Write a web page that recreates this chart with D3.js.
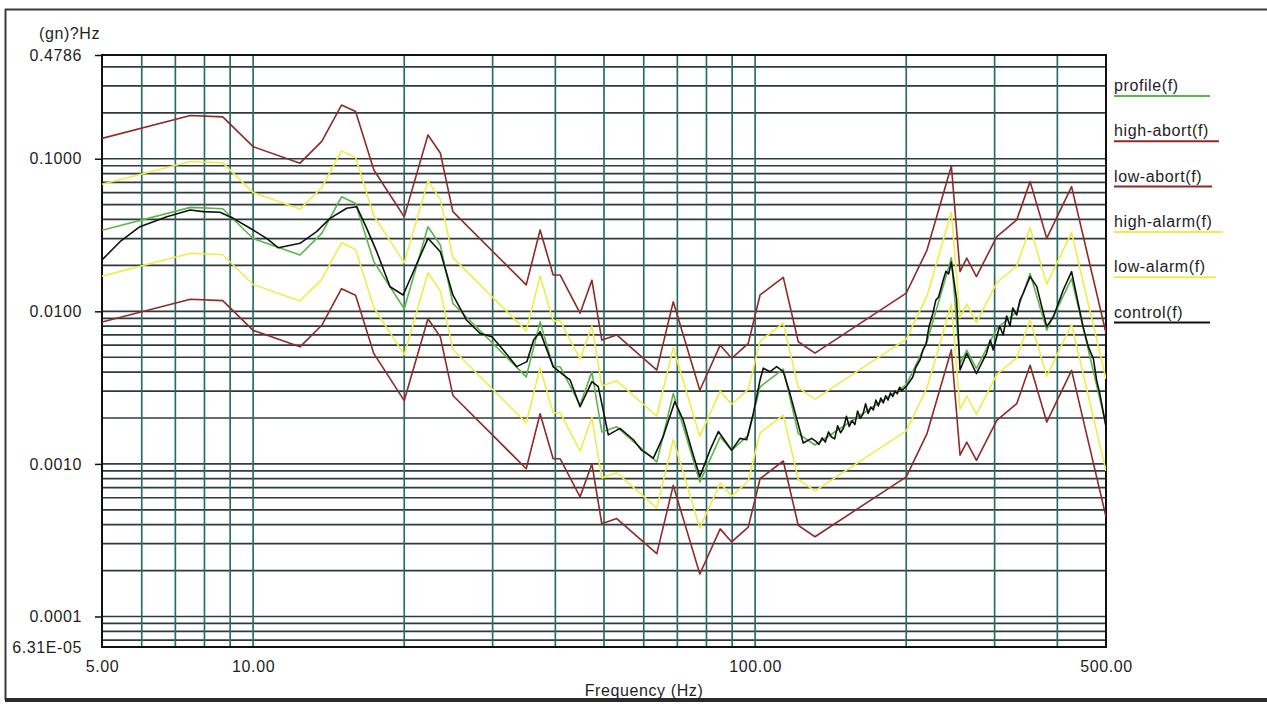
<!DOCTYPE html>
<html>
<head>
<meta charset="utf-8">
<script src="https://cdn.jsdelivr.net/npm/d3@7"></script>
<style>
  html, body { margin: 0; padding: 0; background: #ffffff; }
  svg text { font-family: "Liberation Sans", Arial, sans-serif; font-size: 16px; fill: #1e1e1e; letter-spacing: 0.6px; }
</style>
</head>
<body>
<svg id="chart" width="1267" height="704"></svg>
<script>
// Reference profile breakpoints (Hz) and PSD levels (g²/Hz)
const profileFreq = [5, 7.5, 8.7, 10, 12.4, 13.7, 15, 16, 17.4, 20, 22.3, 23.6, 25, 35, 37.3, 39.6, 40.9, 44.8, 47.3, 49.5, 53, 63.7, 68.7, 77.6, 85.2, 89.8, 96.9, 102.3, 113.8, 121.9, 131.6, 200, 220, 233, 246, 256, 264, 276, 303, 332, 353, 381, 427, 500];
const profileVals = [0.034, 0.048, 0.047, 0.030, 0.0234, 0.0324, 0.0563, 0.0509, 0.0211, 0.0104, 0.0358, 0.0272, 0.01125, 0.00372, 0.00853, 0.00433, 0.00433, 0.00243, 0.00401, 0.00162, 0.00175, 0.00103, 0.00289, 0.00076, 0.0015, 0.00123, 0.00154, 0.0032, 0.00418, 0.00158, 0.00133, 0.00329, 0.00631, 0.0121, 0.0224, 0.00455, 0.00557, 0.00422, 0.00772, 0.00992, 0.0177, 0.00753, 0.0164, 0.0018];

// Tolerance limits at the same breakpoints
const highAbortVals = [0.136, 0.192, 0.188, 0.120, 0.0936, 0.130, 0.225, 0.204, 0.0844, 0.0416, 0.143, 0.109, 0.045, 0.0149, 0.0341, 0.0173, 0.0173, 0.00972, 0.0160, 0.00648, 0.0070, 0.00412, 0.01156, 0.00304, 0.0060, 0.00492, 0.00616, 0.0128, 0.0167, 0.00632, 0.00532, 0.01316, 0.0252, 0.0484, 0.0896, 0.0182, 0.0223, 0.01688, 0.0309, 0.0397, 0.0708, 0.0301, 0.0656, 0.0072];
const lowAbortVals = [0.0085, 0.012, 0.01175, 0.0075, 0.00585, 0.0081, 0.01408, 0.01273, 0.00528, 0.0026, 0.00895, 0.0068, 0.00281, 0.00093, 0.00213, 0.00108, 0.00108, 0.000608, 0.001, 0.000405, 0.000438, 0.000258, 0.000723, 0.00019, 0.000375, 0.000308, 0.000385, 0.0008, 0.001045, 0.000395, 0.000333, 0.000823, 0.00158, 0.003025, 0.0056, 0.00114, 0.00139, 0.001055, 0.00193, 0.00248, 0.00443, 0.00188, 0.0041, 0.00045];
const highAlarmVals = [0.068, 0.096, 0.094, 0.060, 0.0468, 0.0648, 0.1126, 0.1018, 0.0422, 0.0208, 0.0716, 0.0544, 0.0225, 0.00744, 0.01706, 0.00866, 0.00866, 0.00486, 0.00802, 0.00324, 0.0035, 0.00206, 0.00578, 0.00152, 0.0030, 0.00246, 0.00308, 0.0064, 0.00836, 0.00316, 0.00266, 0.00658, 0.01262, 0.0242, 0.0448, 0.0091, 0.01114, 0.00844, 0.01544, 0.01984, 0.0354, 0.01506, 0.0328, 0.0036];
const lowAlarmVals = [0.017, 0.024, 0.0235, 0.015, 0.0117, 0.0162, 0.02815, 0.02545, 0.01055, 0.0052, 0.0179, 0.0136, 0.005625, 0.00186, 0.004265, 0.002165, 0.002165, 0.001215, 0.002005, 0.00081, 0.000875, 0.000515, 0.001445, 0.00038, 0.00075, 0.000615, 0.00077, 0.0016, 0.00209, 0.00079, 0.000665, 0.001645, 0.003155, 0.00605, 0.0112, 0.002275, 0.002785, 0.00211, 0.00386, 0.00496, 0.00885, 0.003765, 0.0082, 0.0009];

// Measured control spectrum
const controlFreq = [5.0, 5.43, 5.95, 6.73, 7.49, 7.96, 8.59, 9.13, 10.0, 10.64, 11.23, 12.4, 13.38, 14.23, 15.36, 16.08, 16.84, 17.63, 18.74, 19.9, 22.3, 23.6, 25.0, 26.6, 28.3, 29.9, 31.5, 33.5, 35.1, 36.2, 37.3, 39.6, 41.5, 42.8, 44.8, 47.3, 48.7, 51.0, 53.8, 57.2, 59.4, 62.7, 65.6, 69.2, 71.9, 74.8, 77.6, 81.3, 84.5, 89.8, 93.3, 96.2, 99.2, 102.3, 103.8, 107.1, 110.4, 113.8, 117.3, 124.7, 129.6, 132, 134, 136, 138, 140, 142, 144, 146, 148, 150, 152, 154, 156, 158, 160, 162, 164, 166, 168, 170, 172, 174, 176, 178, 180, 182, 184, 186, 188, 190, 192, 194, 196, 198, 200, 206, 209, 213, 216, 219, 222, 226, 229, 232, 237, 240, 243, 246, 252, 256, 264, 276, 289, 294, 298, 303, 307, 312, 317, 322, 326, 332, 337, 342, 353, 364, 381, 393, 411, 427, 450, 461, 472, 479, 486, 500];
const controlVals = [0.0217, 0.0286, 0.0359, 0.0417, 0.0462, 0.0450, 0.0446, 0.0407, 0.0341, 0.0301, 0.0261, 0.0279, 0.0333, 0.0407, 0.0474, 0.0485, 0.0350, 0.0246, 0.0145, 0.0128, 0.0301, 0.0246, 0.0128, 0.00878, 0.00718, 0.00682, 0.00558, 0.00434, 0.00468, 0.00649, 0.00736, 0.00434, 0.00383, 0.00355, 0.00237, 0.00346, 0.00321, 0.00155, 0.00171, 0.00144, 0.00123, 0.00109, 0.00151, 0.00256, 0.00194, 0.00123, 0.000825, 0.00123, 0.00163, 0.00123, 0.00147, 0.00144, 0.00215, 0.00355, 0.00424, 0.00402, 0.00434, 0.00402, 0.0029, 0.00137, 0.00147, 0.00141, 0.00134, 0.00148, 0.00139, 0.00162, 0.00150, 0.00146, 0.00178, 0.00160, 0.00172, 0.00205, 0.00176, 0.00192, 0.00181, 0.00222, 0.00199, 0.00212, 0.00248, 0.00214, 0.00236, 0.00226, 0.00262, 0.00240, 0.00270, 0.00251, 0.00280, 0.00262, 0.00292, 0.00276, 0.00300, 0.00288, 0.00318, 0.00302, 0.00312, 0.00321, 0.0037, 0.0043, 0.0048, 0.0056, 0.0061, 0.0079, 0.00971, 0.0118, 0.0124, 0.01605, 0.0183, 0.0176, 0.0210, 0.01187, 0.00413, 0.00531, 0.0039, 0.00531, 0.00649, 0.00558, 0.00682, 0.00802, 0.0070, 0.00932, 0.00802, 0.01052, 0.00946, 0.01187, 0.01314, 0.01687, 0.01452, 0.00794, 0.00924, 0.0138, 0.01819, 0.00794, 0.00587, 0.00487, 0.00353, 0.00289, 0.00175];

// Axis labels
const yTickValues = [0.4786, 0.1, 0.01, 0.001, 0.0001, 6.31e-5];
const yTickLabels = ["0.4786", "0.1000", "0.0100", "0.0010", "0.0001", "6.31E-05"];
const xTickValues = [5, 10, 100, 500];
const xTickLabels = ["5.00", "10.00", "100.00", "500.00"];

// Legend entries
const legendNames = ["profile(f)", "high-abort(f)", "low-abort(f)", "high-alarm(f)", "low-alarm(f)", "control(f)"];
const legendColors = ["#5bb54a", "#8e2a2a", "#8e2a2a", "#eded4c", "#eded4c", "#111111"];

const svg = d3.select("#chart");
const plot = { left: 102, top: 55, right: 1106, bottom: 647 };

const x = d3.scaleLog().domain([5, 500]).range([plot.left, plot.right]);
const y = d3.scaleLog().domain([6.31e-5, 0.4786]).range([plot.bottom, plot.top]);

// Outer frame
svg.append("line").attr("x1", 5.5).attr("y1", 9).attr("x2", 5.5).attr("y2", 700)
  .attr("stroke", "#3a3a3a").attr("stroke-width", 2);
svg.append("line").attr("x1", 5).attr("y1", 9.5).attr("x2", 1267).attr("y2", 9.5)
  .attr("stroke", "#3a3a3a").attr("stroke-width", 2);
svg.append("line").attr("x1", 5).attr("y1", 700).attr("x2", 1267).attr("y2", 700)
  .attr("stroke", "#2a2a2a").attr("stroke-width", 4);

// Grid
const grid = svg.append("g");
const yGrid = y.ticks().filter(v => v > 6.31e-5 * 1.001 && v < 0.4786 * 0.999);
grid.selectAll("line.h").data(yGrid).join("line")
  .attr("x1", plot.left).attr("x2", plot.right)
  .attr("y1", d => y(d)).attr("y2", d => y(d))
  .attr("stroke", "#2f3b3b").attr("stroke-width", 1.7);
const xGrid = x.ticks().filter(v => v > 5 && v < 500);
grid.selectAll("line.v").data(xGrid).join("line")
  .attr("x1", d => x(d)).attr("x2", d => x(d))
  .attr("y1", plot.top).attr("y2", plot.bottom)
  .attr("stroke", "#2c6d68").attr("stroke-width", 1.7);

// Axes
const yAxis = svg.append("g").attr("transform", `translate(${plot.left},0)`)
  .call(d3.axisLeft(y).tickValues(yTickValues)
    .tickFormat((d, i) => yTickLabels[i]).tickSize(7).tickPadding(13));
yAxis.select(".domain").remove();
yAxis.selectAll(".tick line").attr("stroke", "#111").attr("stroke-width", 1.5);
yAxis.selectAll(".tick").filter((d, i) => i === yTickValues.length - 1).select("line").remove();
yAxis.selectAll("text").attr("font-size", null).attr("font-family", null).attr("fill", null);

const xAxis = svg.append("g").attr("transform", `translate(0,${plot.bottom})`)
  .call(d3.axisBottom(x).tickValues(xTickValues)
    .tickFormat((d, i) => xTickLabels[i]).tickSize(0).tickPadding(14));
xAxis.select(".domain").remove();
xAxis.selectAll("text").attr("font-size", null).attr("font-family", null).attr("fill", null);

// Plot border
svg.append("rect").attr("x", plot.left).attr("y", plot.top)
  .attr("width", plot.right - plot.left).attr("height", plot.bottom - plot.top)
  .attr("fill", "none").attr("stroke", "#111").attr("stroke-width", 2);

// Series
const line = d3.line().x(d => x(d[0])).y(d => y(d[1]));
const pairs = (fs, vs) => fs.map((f, i) => [f, vs[i]]);
const series = [
  { vals: pairs(profileFreq, highAbortVals), color: legendColors[1] },
  { vals: pairs(profileFreq, lowAbortVals), color: legendColors[2] },
  { vals: pairs(profileFreq, highAlarmVals), color: legendColors[3] },
  { vals: pairs(profileFreq, lowAlarmVals), color: legendColors[4] },
  { vals: pairs(profileFreq, profileVals), color: legendColors[0] },
  { vals: pairs(controlFreq, controlVals), color: legendColors[5] }
];
svg.append("clipPath").attr("id", "plot-clip").append("rect")
  .attr("x", plot.left).attr("y", plot.top)
  .attr("width", plot.right - plot.left).attr("height", plot.bottom - plot.top);
svg.append("g").attr("clip-path", "url(#plot-clip)")
  .selectAll("path").data(series).join("path")
  .attr("d", d => line(d.vals))
  .attr("fill", "none").attr("stroke", d => d.color)
  .attr("stroke-width", 1.6).attr("stroke-linejoin", "round");

// Titles
svg.append("text").attr("x", 39).attr("y", 39).text("(gn)?Hz");
svg.append("text").attr("x", 644).attr("y", 696).attr("text-anchor", "middle").text("Frequency (Hz)");

// Legend
const legend = svg.append("g");
legendNames.forEach((name, i) => {
  const base = 96 + i * 45.3;
  const t = legend.append("text").attr("x", 1114).attr("y", base - 5).text(name);
  const w = t.node().getComputedTextLength();
  legend.append("line").attr("x1", 1114).attr("x2", Math.max(1210, 1114 + w + 10))
    .attr("y1", base).attr("y2", base)
    .attr("stroke", legendColors[i]).attr("stroke-width", 2);
});
</script>
</body>
</html>
